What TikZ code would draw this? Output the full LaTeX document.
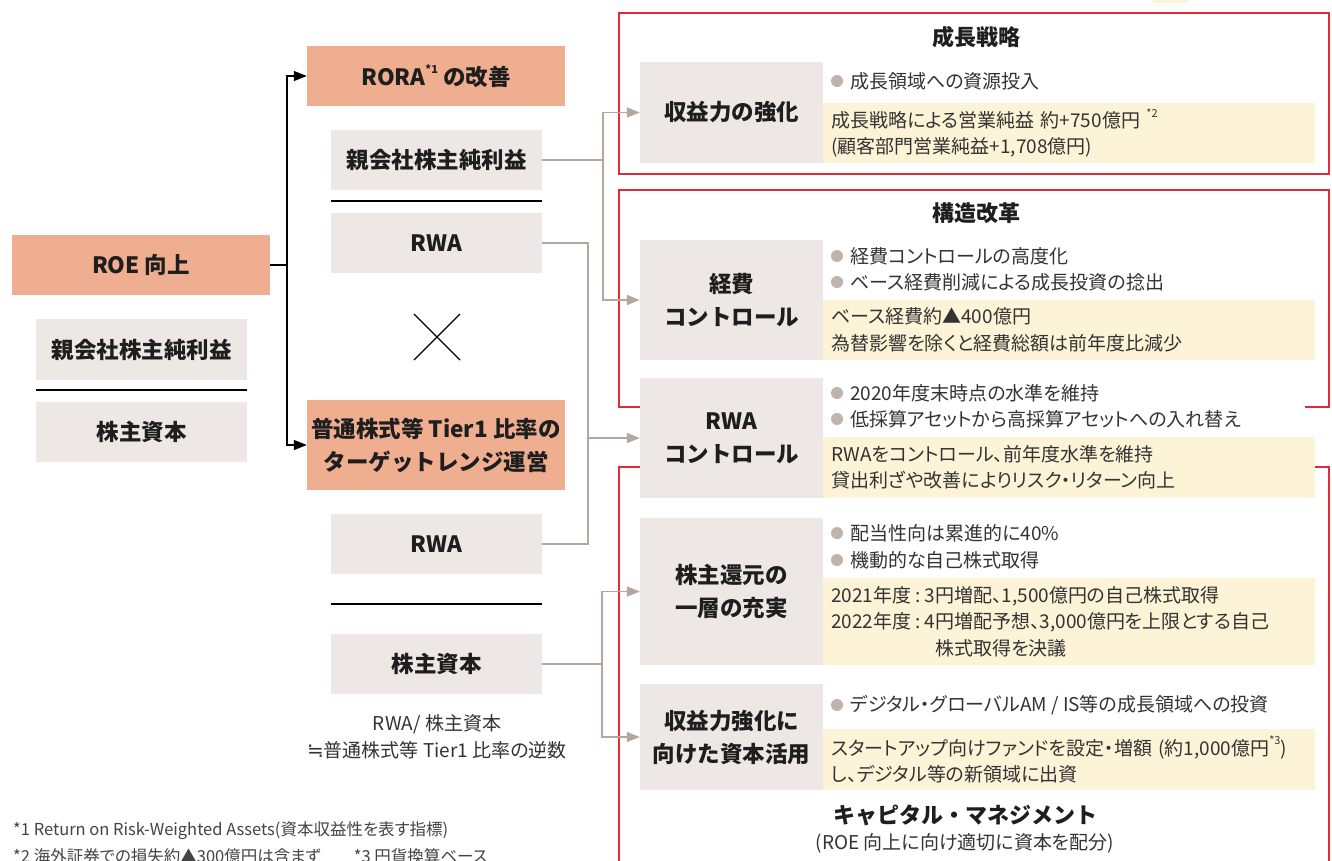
\documentclass[tikz,border=0pt]{standalone}
\usepackage{fontspec}
\setmainfont{Noto Sans CJK JP}
\newfontfamily\bodyjp{Noto Sans CJK JP}[RawFeature=+palt]
\newfontfamily\symf{DejaVu Sans}
\usetikzlibrary{arrows.meta}
\definecolor{orangeb}{HTML}{EEAE8F}
\definecolor{grayb}{HTML}{EDE8E5}
\definecolor{yel}{HTML}{FDF3D6}
\definecolor{redf}{HTML}{E02B3A}
\definecolor{conn}{HTML}{B5A69E}
\definecolor{bulc}{HTML}{BFB3AB}
\definecolor{txt}{HTML}{1E1E1E}
\definecolor{body}{HTML}{333333}
\definecolor{note}{HTML}{444444}
\newcommand{\supx}[1]{\raisebox{0.55em}{\fontsize{11}{11}\selectfont #1}}
\newcommand{\bodyfont}{\bodyjp\fontsize{19}{26.5}\selectfont}
\newcommand{\colsep}{\hspace{4pt}:\hspace{4pt}}
\begin{document}
\begin{tikzpicture}[x=1pt,y=-1pt,
  lbl/.style={font=\fontsize{22.5}{33}\selectfont\bfseries, text=txt, align=center, inner sep=0pt},
  obox/.style={lbl, fill=orangeb},
  gbox/.style={lbl, fill=grayb},
  ybox/.style={fill=yel, inner xsep=8pt, inner ysep=0pt, align=left, text width=476pt, anchor=west, font=\bodyfont, text=body},
  bul/.style={anchor=west, inner sep=0pt, font=\bodyfont, text=body},
  ttl/.style={font=\fontsize{22}{28}\selectfont\bfseries, text=txt, inner sep=0pt},
  frm/.style={draw=redf, line width=1.3pt},
  cn/.style={draw=conn, line width=1.5pt},
  ca/.style={cn, -{Triangle[length=13pt,width=10pt]}},
  bk/.style={draw=black, line width=1.3pt},
  ba/.style={bk, -{Triangle[length=13pt,width=10pt]}},
  dv/.style={draw=black, line width=1.2pt},
  fn/.style={anchor=west, inner sep=0pt, font=\bodyjp\fontsize{16.5}{19}\selectfont, text=note}
]
\useasboundingbox (0,0) rectangle (1332,860);
\fill[white] (0,0) rectangle (1332,860);

% top-right legend fragment
\fill[yel] (1153,0) rectangle (1188,3);

% red frames
\draw[frm] (619,13) rectangle (1329,174);
\draw[frm] (619,190) rectangle (1329,407);
\draw[frm] (619,865) -- (619,467) -- (1329,467) -- (1329,865);
\fill[white] (640,376) rectangle (1305,500);

\node[ttl] (t1) at (976,37) {成長戦略};
\node[ttl] (t2) at (976,213) {構造改革};
\node[ttl] (t3) at (965,815) {キャピタル・マネジメント};
\node[font=\bodyfont, text=body, inner sep=0pt] (t3b) at (965,843) {(ROE 向上に向け適切に資本を配分)};

% left column
\node[obox, minimum width=258pt, minimum height=60pt] (roe) at (141,265) {ROE 向上};
\node[gbox, minimum width=211pt, minimum height=61pt] (pni1) at (141.5,349.5) {親会社株主純利益};
\draw[dv] (36,390) -- (247,390);
\node[gbox, minimum width=211pt, minimum height=60pt] (eq1) at (141.5,432) {株主資本};

% middle column
\node[obox, minimum width=258pt, minimum height=60pt] (rora) at (436,76) {RORA\supx{*1} の改善};
\node[gbox, minimum width=211pt, minimum height=60pt] (pni2) at (436.5,160) {親会社株主純利益};
\draw[dv] (331,201) -- (542,201);
\node[gbox, minimum width=211pt, minimum height=60pt] (rwa1) at (436.5,243) {RWA};
\draw[line width=1.2pt] (414,314) -- (460,360) (460,314) -- (414,360);
\node[obox, minimum width=258pt, minimum height=90pt] (tier1) at (436,445) {普通株式等 Tier1 比率の\\ターゲットレンジ運営};
\node[gbox, minimum width=211pt, minimum height=60pt] (rwa2) at (436.5,544) {RWA};
\draw[dv] (331,604) -- (542,604);
\node[gbox, minimum width=211pt, minimum height=60pt] (eq2) at (436.5,664) {株主資本};
\node[font=\bodyfont, text=body, align=center, inner sep=0pt] (ratio) at (437,737) {RWA/ 株主資本\\{\symf\fontsize{20}{20}\selectfont ≒}普通株式等 Tier1 比率の逆数};

% right label boxes
\node[gbox, minimum width=183pt, minimum height=101pt] (kaeki) at (731.5,112.5) {収益力の強化};
\node[gbox, minimum width=183pt, minimum height=120pt] (keihi) at (731.5,300) {経費\\コントロール};
\node[gbox, minimum width=183pt, minimum height=120pt] (rwac) at (731.5,438) {RWA\\コントロール};
\node[gbox, minimum width=183pt, minimum height=147pt] (kanpu) at (731.5,591.5) {株主還元の\\一層の充実};
\node[gbox, minimum width=183pt, minimum height=106pt] (katsuyo) at (731.5,737) {収益力強化に\\向けた資本活用};

% yellow result boxes
\node[ybox, minimum height=60pt] (y1) at (823,133) {成長戦略による営業純益 約+750億円 \supx{*2}\\(顧客部門営業純益+1,708億円)};
\node[ybox, minimum height=60pt] (y2) at (823,330) {ベース経費約▲400億円\\為替影響を除くと経費総額は前年度比減少};
\node[ybox, minimum height=61pt] (y3) at (823,467.5) {RWAをコントロール、前年度水準を維持\\貸出利ざや改善によりリスク・リターン向上};
\node[ybox, minimum height=87pt] (y4) at (823,621.5) {2021年度\colsep 3円増配、1,500億円の自己株式取得\\2022年度\colsep 4円増配予想、3,000億円を上限とする自己\\\hspace*{104pt}株式取得を決議};
\node[ybox, minimum height=61pt] (y5) at (823,759.5) {\mbox{スタートアップ向けファンドを設定・増額 (約1,000億円\supx{*3})}\\し、デジタル等の新領域に出資};

% bullets
\foreach \yy in {81,256,282,393,419,533,560,705} \fill[bulc] (837,\yy) circle (6pt);
\node[bul] (b1) at (850,81) {成長領域への資源投入};
\node[bul] (b2) at (850,256) {経費コントロールの高度化};
\node[bul] (b3) at (850,282) {ベース経費削減による成長投資の捻出};
\node[bul] (b4) at (850,393) {2020年度末時点の水準を維持};
\node[bul] (b5) at (850,419) {低採算アセットから高採算アセットへの入れ替え};
\node[bul] (b6) at (850,533) {配当性向は累進的に40\%};
\node[bul] (b7) at (850,560) {機動的な自己株式取得};
\node[bul] (b8) at (850,705) {デジタル・グローバルAM / IS等の成長領域への投資};

% black connectors
\coordinate (j0) at (287,265);
\draw[bk] (roe.east) -- (j0);
\draw[ba] (j0) |- (rora.west);
\draw[ba] (j0) |- (tier1.west);

% brown connectors
\coordinate (j1) at (603,160);
\draw[cn] (pni2.east) -- (j1);
\draw[ca] (j1) |- (kaeki.west);
\draw[ca] (j1) |- (keihi.west);
\coordinate (j2) at (588,438);
\draw[cn] (rwa1.east) -| (j2) |- (rwa2.east);
\draw[ca] (j2) -- (rwac.west);
\coordinate (j4) at (602,664);
\draw[cn] (eq2.east) -- (j4);
\draw[ca] (j4) |- (kanpu.west);
\draw[ca] (j4) |- (katsuyo.west);

% footnotes
\node[fn] (fn1) at (13,831) {*1 Return on Risk-Weighted Assets(資本収益性を表す指標)};
\node[fn] (fn2) at (13,856) {*2 海外証券での損失約▲300億円は含まず　　*3 円貨換算ベース};
\end{tikzpicture}
\end{document}
